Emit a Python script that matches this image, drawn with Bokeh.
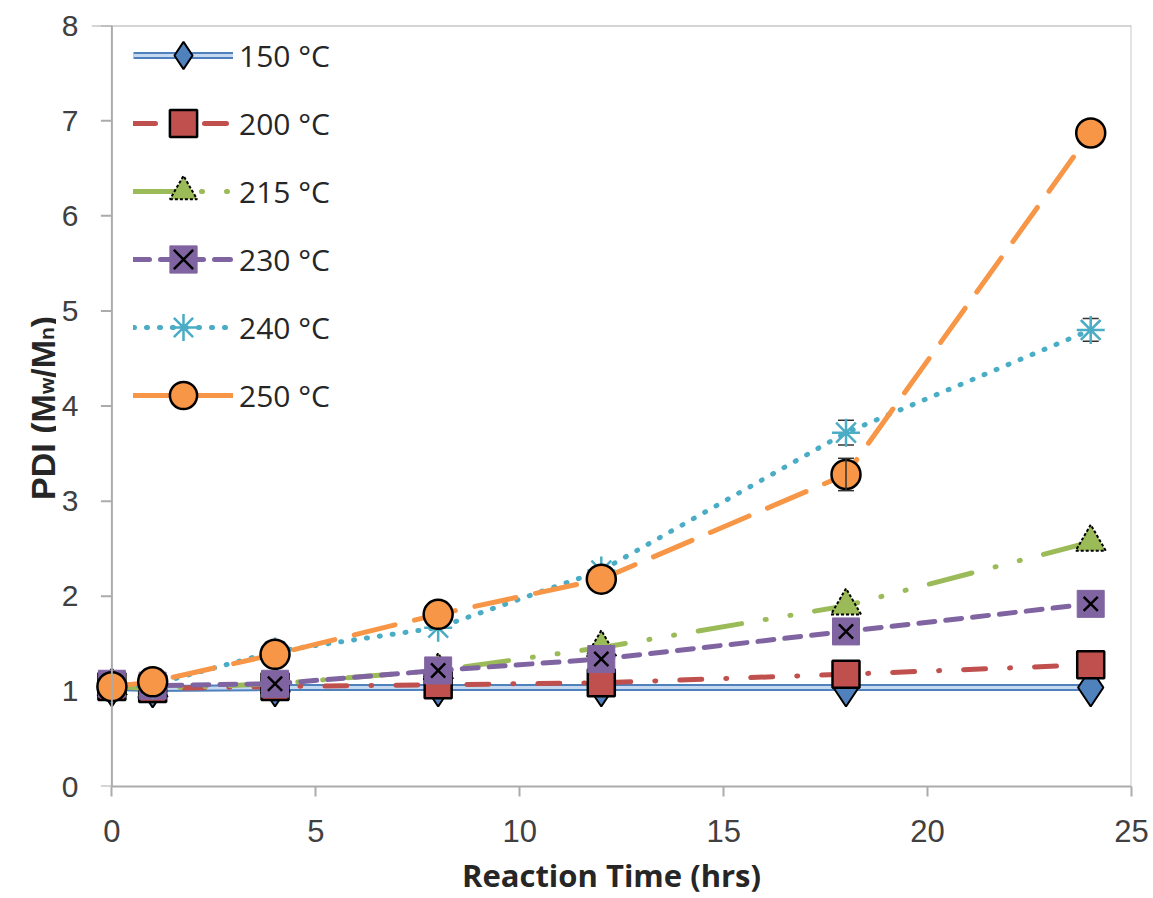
import math
from bokeh.plotting import figure
from bokeh.layouts import row
from bokeh.models import (Range1d, FixedTicker, Span, Label, Legend, LegendItem,
                          ColumnDataSource, Whisker, TeeHead)
from bokeh.embed import file_html
from bokeh.resources import INLINE

# ---- data ----
time_hrs = [0, 1, 4, 8, 12, 18, 24]
pdi_150 = [1.04, 1.03, 1.04, 1.04, 1.04, 1.04, 1.04]
pdi_200 = [1.05, 1.03, 1.05, 1.07, 1.09, 1.18, 1.28]
pdi_215 = [1.05, 1.03, 1.08, 1.22, 1.46, 1.90, 2.57]
pdi_230 = [1.08, 1.06, 1.08, 1.22, 1.34, 1.63, 1.92]
pdi_240 = [1.05, 1.07, 1.42, 1.67, 2.27, 3.72, 4.80]
pdi_250 = [1.05, 1.10, 1.39, 1.81, 2.18, 3.28, 6.87]
err_240 = [0, 0, 0, 0, 0, 0.13, 0.12]
err_250 = [0, 0, 0, 0, 0, 0.17, 0]
labels = ["150 °C", "200 °C", "215 °C", "230 °C", "240 °C", "250 °C"]
x_ticks = [0, 5, 10, 15, 20, 25]
y_ticks = [0, 1, 2, 3, 4, 5, 6, 7, 8]

FONT = "Open Sans"
TICKFONT = "Liberation Sans"
AX = "#ABABAB"
TXT = "#404040"
H = 898

p = figure(width=1097, height=H, x_range=Range1d(-0.5, 25), y_range=Range1d(0, 8),
           output_backend="svg", toolbar_location=None,
           min_border_left=35, min_border_right=22, min_border_top=25, min_border_bottom=111)
p.outline_line_color = None
p.xgrid.grid_line_color = None
p.ygrid.grid_line_color = None

# x axis
xa = p.xaxis[0]
xa.ticker = FixedTicker(ticks=x_ticks)
xa.bounds = (0, 25)
xa.axis_line_color = AX
xa.axis_line_width = 2
xa.major_tick_line_color = AX
xa.major_tick_line_width = 2
xa.major_tick_in = 0
xa.major_tick_out = 10
xa.minor_tick_line_color = None
xa.major_label_standoff = 23
xa.major_label_text_font = TICKFONT
xa.major_label_text_font_size = "31px"
xa.major_label_text_color = TXT
xa.axis_label = "Reaction Time (hrs)"
xa.axis_label_standoff = 9
xa.axis_label_text_font = FONT
xa.axis_label_text_font_style = "bold"
xa.axis_label_text_font_size = "31px"
xa.axis_label_text_color = "#262626"

# y axis (labels only; line drawn at x=0)
ya = p.yaxis[0]
ya.ticker = FixedTicker(ticks=y_ticks)
ya.axis_line_color = None
ya.major_tick_line_color = None
ya.minor_tick_line_color = None
ya.major_tick_in = 0
ya.major_tick_out = 0
ya.major_label_standoff = 13
ya.major_label_text_font = TICKFONT
ya.major_label_text_font_size = "30px"
ya.major_label_text_color = TXT

p.add_layout(Span(location=0, dimension="height", line_color=AX, line_width=2))
p.add_layout(Span(location=8, dimension="width", line_color=AX, line_width=2))
p.add_layout(Span(location=25, dimension="height", line_color="#C8C8C8", line_width=2))
p.segment(x0=[-0.27] * len(y_ticks), y0=y_ticks, x1=[0] * len(y_ticks), y1=y_ticks,
          line_color=AX, line_width=2)

BLUE, RED, GREEN, PURPLE, AQUA, ORANGE = "#4F81BD", "#C0504D", "#9BBB59", "#8064A2", "#4BACC6", "#F79646"

items = []
# 150
r1 = p.line(time_hrs, pdi_150, line_color=BLUE, line_width=7)
r2 = p.line(time_hrs, pdi_150, line_color="#C6D9F1", line_width=3)
m1 = p.scatter(time_hrs, pdi_150, marker="diamond", size=38, fill_color=BLUE, line_color="black", line_width=2)
items.append(LegendItem(label=labels[0], renderers=[r1, r2, m1]))
# 200
r = p.line(time_hrs, pdi_200, line_color=RED, line_width=5, line_dash="22 24 1 24", line_cap="round")
m = p.scatter(time_hrs, pdi_200, marker="square", size=27, fill_color=RED, line_color="black", line_width=2.5)
items.append(LegendItem(label=labels[1], renderers=[r, m]))
# 215
r = p.line(time_hrs, pdi_215, line_color=GREEN, line_width=5, line_dash="44 24 1 24 1 24", line_cap="round")
m = p.scatter(time_hrs, pdi_215, marker="triangle", size=30, fill_color=GREEN, line_color="black",
              line_width=2, line_dash="3 2")
items.append(LegendItem(label=labels[2], renderers=[r, m]))
# 230
r = p.line(time_hrs, pdi_230, line_color=PURPLE, line_width=5, line_dash="16 11", line_cap="round")
m = p.scatter(time_hrs, pdi_230, marker="square", size=27, fill_color=PURPLE, line_color=PURPLE, line_width=1)
mx = p.scatter(time_hrs, pdi_230, marker="x", size=20, line_color="black", line_width=2.5)
items.append(LegendItem(label=labels[3], renderers=[r, m, mx]))
# 240
r = p.line(time_hrs, pdi_240, line_color=AQUA, line_width=5, line_dash="1 12", line_cap="round")
m = p.scatter(time_hrs, pdi_240, marker="asterisk", size=28, line_color=AQUA, line_width=2.5)
items.append(LegendItem(label=labels[4], renderers=[r, m]))
src240 = ColumnDataSource(dict(
    x=[t for t, e in zip(time_hrs, err_240) if e > 0],
    upper=[v + e for v, e in zip(pdi_240, err_240) if e > 0],
    lower=[v - e for v, e in zip(pdi_240, err_240) if e > 0]))
p.add_layout(Whisker(source=src240, base="x", upper="upper", lower="lower", line_color="#333333",
                     line_width=1.5,
                     upper_head=TeeHead(size=16, line_color="#333333", line_width=1.5),
                     lower_head=TeeHead(size=16, line_color="#333333", line_width=1.5)))
# 250
r = p.line(time_hrs, pdi_250, line_color=ORANGE, line_width=5, line_dash="42 20", line_cap="round")
src250 = ColumnDataSource(dict(
    x=[t for t, e in zip(time_hrs, err_250) if e > 0],
    upper=[v + e for v, e in zip(pdi_250, err_250) if e > 0],
    lower=[v - e for v, e in zip(pdi_250, err_250) if e > 0]))
p.add_layout(Whisker(source=src250, base="x", upper="upper", lower="lower", line_color="#333333",
                     line_width=1.5, level="glyph",
                     upper_head=TeeHead(size=16, line_color="#333333", line_width=1.5),
                     lower_head=TeeHead(size=16, line_color="#333333", line_width=1.5)))
m = p.scatter(time_hrs, pdi_250, marker="circle", size=29, fill_color=ORANGE, line_color="black", line_width=2.5)
items.append(LegendItem(label=labels[5], renderers=[r, m]))

legend = Legend(items=items, location=(42, 357), padding=0, margin=0,
                border_line_color=None, background_fill_alpha=0,
                glyph_width=100, glyph_height=68, label_height=30, spacing=0,
                label_standoff=6, label_text_font=FONT, label_text_font_size="30px",
                label_text_color="#262626")
p.add_layout(legend)

# y-axis title with subscripts, in a narrow side panel sharing the main y scale
yl = figure(width=56, height=H, x_range=Range1d(0, 56), y_range=p.y_range,
            x_axis_location=None, y_axis_location=None,
            output_backend="svg", toolbar_location=None, min_border=0)
yl.grid.visible = False
yl.outline_line_color = None
YF = "Liberation Sans"
# (text, x baseline, pixel offset along the text direction, size)
ylab = [("PDI (M", 42, 0.0, "34px"), ("w", 46, 105.8, "21px"),
        ("/M", 42, 122.1, "34px"), ("n", 46, 159.9, "21px"), (")", 42, 172.7, "34px")]
for txt, xx, off, fs in ylab:
    yl.add_layout(Label(x=xx, y=3.013, y_offset=off, text=txt, angle=math.pi / 2, text_align="left",
                        text_baseline="alphabetic", text_font=YF, text_font_style="bold",
                        text_font_size=fs, text_color="#262626"))

layout = row(yl, p, spacing=0)
open("out.html", "w").write(file_html(layout, INLINE))
